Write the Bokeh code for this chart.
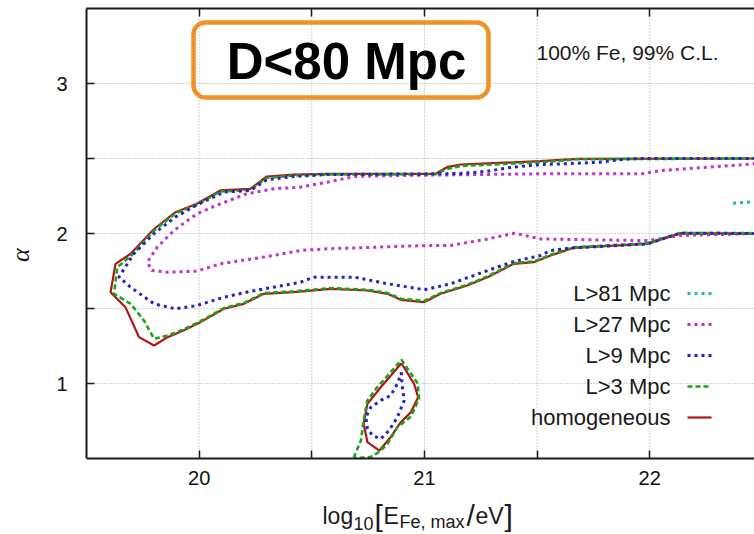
from bokeh.plotting import figure
from bokeh.models import Range1d, FixedTicker, LinearAxis, Label, BoxAnnotation
from bokeh.embed import file_html
from bokeh.resources import INLINE

# ---- 99% C.L. contours in the (log10 E_max, alpha) plane ----
# homogeneous source distribution: main band (upper edge, around the tip, lower edge)
hom_x = [22.47, 21.68, 21.515, 21.16, 21.10, 21.05, 20.567, 20.42, 20.30, 20.227, 20.094,
         19.99, 19.895, 19.80, 19.696, 19.629, 19.607,
         19.673, 19.733, 19.80, 19.86, 19.93, 20.006, 20.11, 20.198, 20.287, 20.42, 20.585,
         20.747, 20.836, 20.895, 20.998, 21.072, 21.19, 21.28, 21.397, 21.486, 21.56, 21.66,
         21.99, 22.135, 22.47]
hom_y = [2.50, 2.498, 2.482, 2.46, 2.442, 2.398, 2.398, 2.393, 2.38, 2.298, 2.287,
         2.198, 2.142, 2.03, 1.865, 1.798, 1.609,
         1.509, 1.309, 1.253, 1.309, 1.353, 1.409, 1.498, 1.531, 1.598, 1.609, 1.631,
         1.62, 1.598, 1.558, 1.542, 1.598, 1.653, 1.709, 1.798, 1.809, 1.853, 1.904,
         1.931, 2.002, 2.0]
# homogeneous: low-alpha island
hom_isl_x = [20.898, 20.954, 20.972, 20.94, 20.895, 20.85, 20.80, 20.747, 20.73, 20.747, 20.806, 20.898]
hom_isl_y = [1.135, 0.998, 0.909, 0.809, 0.742, 0.642, 0.553, 0.609, 0.731, 0.864, 0.975, 1.135]

# L > 3 Mpc
l3_x = [22.47, 21.68, 21.515, 21.16, 21.10, 21.05, 20.567, 20.42, 20.30, 20.227, 20.094,
        19.99, 19.895, 19.80, 19.70, 19.637, 19.622,
        19.696, 19.755, 19.80, 19.86, 19.93, 20.006, 20.11, 20.198, 20.287, 20.42, 20.585,
        20.747, 20.836, 20.895, 20.998, 21.072, 21.19, 21.28, 21.397, 21.486, 21.56, 21.66,
        21.99, 22.135, 22.47]
l3_y = [2.50, 2.495, 2.475, 2.45, 2.43, 2.395, 2.393, 2.387, 2.37, 2.29, 2.28,
        2.19, 2.135, 2.02, 1.855, 1.776, 1.598,
        1.531, 1.42, 1.298, 1.32, 1.36, 1.415, 1.503, 1.536, 1.603, 1.614, 1.636,
        1.625, 1.603, 1.565, 1.55, 1.603, 1.658, 1.714, 1.803, 1.814, 1.858, 1.908,
        1.935, 2.004, 2.002]
l3_isl_x = [20.686, 20.718, 20.73, 20.747, 20.79, 20.85, 20.898, 20.97, 20.976, 20.94, 20.88,
            20.836, 20.80, 20.76, 20.70, 20.686]
l3_isl_y = [0.505, 0.62, 0.753, 0.887, 0.975, 1.075, 1.158, 1.0, 0.898, 0.78, 0.709,
            0.598, 0.545, 0.51, 0.503, 0.505]

# L > 9 Mpc
l9_x = [22.47, 21.95, 21.855, 21.78, 21.62, 21.515, 21.37, 21.28, 21.16, 21.05, 20.567, 20.42,
        20.30, 20.227, 20.11, 19.99, 19.895, 19.80, 19.71, 19.644,
        19.696, 19.80, 19.895, 19.99, 20.11, 20.21, 20.33, 20.45, 20.51, 20.69, 20.836, 21.0,
        21.117, 21.28, 21.40, 21.515, 21.56, 21.66, 21.99, 22.135, 22.47]
l9_y = [2.50, 2.50, 2.49, 2.475, 2.465, 2.46, 2.438, 2.415, 2.40, 2.398, 2.393, 2.38,
        2.358, 2.287, 2.276, 2.19, 2.11, 2.0, 1.865, 1.709,
        1.642, 1.531, 1.498, 1.52, 1.575, 1.609, 1.642, 1.675, 1.709, 1.709, 1.665, 1.625,
        1.665, 1.753, 1.815, 1.853, 1.887, 1.904, 1.931, 2.002, 2.0]
l9_isl_x = [20.898, 20.90, 20.91, 20.88, 20.843, 20.806, 20.77, 20.747, 20.74, 20.762, 20.806,
            20.85, 20.88, 20.898]
l9_isl_y = [1.075, 0.998, 0.887, 0.775, 0.687, 0.631, 0.653, 0.698, 0.775, 0.842, 0.887,
            0.92, 0.998, 1.075]

# L > 27 Mpc
l27_x = [22.47, 22.05, 21.97, 21.515, 20.895, 20.69, 20.567, 20.45, 20.33, 20.21, 20.094,
         19.99, 19.888, 19.814, 19.77,
         19.79, 19.86, 19.99, 20.094, 20.21, 20.33, 20.45, 20.567, 20.69, 21.01, 21.117,
         21.28, 21.40, 21.515, 21.72, 21.99, 22.135, 22.47]
l27_y = [2.465, 2.42, 2.398, 2.398, 2.387, 2.38, 2.342, 2.309, 2.298, 2.264, 2.198,
         2.131, 2.02, 1.909, 1.809,
         1.753, 1.742, 1.749, 1.798, 1.825, 1.853, 1.887, 1.898, 1.904, 1.92, 1.92,
         1.964, 2.002, 1.964, 1.958, 1.953, 1.987, 2.0]

# L > 81 Mpc
l81_x = [22.37, 22.47]
l81_y = [2.202, 2.213]

# legend entries, top to bottom
legend_labels = ["L>81 Mpc", "L>27 Mpc", "L>9 Mpc", "L>3 Mpc", "homogeneous"]

# axis ticks
x_ticks = [20, 20.5, 21, 21.5, 22]
y_ticks = [1, 1.5, 2, 2.5, 3]

# ---- line styles ----
RED, GREEN, BLUE, MAGENTA, CYAN = "#b01515", "#1ba31b", "#2424bd", "#c233c2", "#22b5b5"
STY = {
    "hom": dict(line_color=RED, line_width=2.2),
    "l3": dict(line_color=GREEN, line_width=2.6, line_dash="5 3"),
    "l9": dict(line_color=BLUE, line_width=3, line_dash="3 4"),
    "l27": dict(line_color=MAGENTA, line_width=3, line_dash="3 4"),
    "l81": dict(line_color=CYAN, line_width=3, line_dash="3 4"),
}
legend_styles = ["l81", "l27", "l9", "l3", "hom"]

# ---- canvas geometry ----
# The frame runs from the left axis to the right edge and down to the bottom of the
# canvas, so the composed x-axis title can live inside it; the bottom axis sits at alpha=0.5.
W, H = 754, 534
LEFT, TOP = 86, 8
X_START, X_END = 19.5, 22.465
Y_AXIS_LO, Y_END = 0.5, 3.5
PX_PER_Y = 150.0
PX_PER_X = (W - LEFT) / (X_END - X_START)
Y_START = Y_END - (H - TOP) / PX_PER_Y


def px2x(px):
    return X_START + (px - LEFT) / PX_PER_X


def py2y(py):
    return Y_END - (py - TOP) / PX_PER_Y


p = figure(width=W, height=H, x_range=Range1d(X_START, X_END),
           y_range=Range1d(Y_START, Y_END), output_backend="svg", toolbar_location=None,
           min_border_left=LEFT, min_border_right=0, min_border_top=TOP,
           min_border_bottom=0, background_fill_color="white", border_fill_color="white")
p.outline_line_color = None
p.xgrid.visible = False
p.ygrid.visible = False

# axes: inward ticks, labels on integers only
AX = "#1a1a1a"
FONT = "Liberation Sans"
p.xaxis.ticker = FixedTicker(ticks=x_ticks)
p.yaxis.ticker = FixedTicker(ticks=y_ticks)
p.xaxis.major_label_overrides = {20.5: "", 21.5: ""}
p.yaxis.major_label_overrides = {1.5: "", 2.5: ""}
p.xaxis.fixed_location = Y_AXIS_LO
p.yaxis.bounds = (Y_AXIS_LO, Y_END)
for ax in (p.xaxis, p.yaxis):
    ax.axis_line_color = AX
    ax.axis_line_width = 2
    ax.major_tick_in = 8
    ax.major_tick_out = 0
    ax.major_tick_line_color = AX
    ax.major_tick_line_width = 1.5
    ax.minor_tick_line_color = None
    ax.major_label_text_font = FONT
    ax.major_label_text_font_size = "20px"
    ax.major_label_text_color = "#111111"
p.xaxis.major_label_standoff = 12
p.yaxis.major_label_standoff = 19

# rotated alpha, nudged up the axis with non-breaking spaces before it
p.yaxis.axis_label = "\u00a0" * 5 + "α"
p.yaxis.axis_label_text_font = "Liberation Serif"
p.yaxis.axis_label_text_font_style = "italic"
p.yaxis.axis_label_text_font_size = "26px"
p.yaxis.axis_label_text_color = "#1a1a1a"
p.yaxis.axis_label_standoff = 18

top_axis = LinearAxis(ticker=FixedTicker(ticks=x_ticks), axis_line_color=AX, axis_line_width=2,
                      major_tick_in=8, major_tick_out=0, major_tick_line_color=AX,
                      major_tick_line_width=1.5, minor_tick_line_color=None,
                      major_label_text_font_size="0px", major_label_standoff=0,
                      major_label_overrides={t: "" for t in x_ticks})
p.add_layout(top_axis, "above")

# dotted grid, limited to the axes box
GRID = dict(line_color="#a8a8a8", line_dash="1 2", line_width=1, level="underlay")
p.segment(x0=x_ticks, y0=[Y_AXIS_LO] * len(x_ticks), x1=x_ticks, y1=[Y_END] * len(x_ticks), **GRID)
p.segment(x0=[X_START] * len(y_ticks), y0=y_ticks, x1=[X_END] * len(y_ticks), y1=y_ticks, **GRID)

# ---- contours ----
p.line(l27_x, l27_y, **STY["l27"])
p.line(l81_x, l81_y, **STY["l81"])
p.line(hom_x, hom_y, **STY["hom"])
p.line(hom_isl_x, hom_isl_y, **STY["hom"])
p.line(l3_x, l3_y, **STY["l3"])
p.line(l3_isl_x, l3_isl_y, **STY["l3"])
p.line(l9_x, l9_y, **STY["l9"])
p.line(l9_isl_x, l9_isl_y, **STY["l9"])

# ---- legend: text on the left, sample line on the right ----
row_py = [293, 324, 355, 386, 417]
for lab, key, py in zip(legend_labels, legend_styles, row_py):
    p.add_layout(Label(x=px2x(670), y=py2y(py), text=lab, text_align="right",
                       text_baseline="middle", text_font=FONT, text_font_size="22px",
                       text_color="#1a1a1a"))
    p.segment(x0=[px2x(687)], y0=[py2y(py)], x1=[px2x(711)], y1=[py2y(py)], **STY[key])

# ---- annotations ----
p.add_layout(Label(x=px2x(627), y=py2y(52), text="100% Fe, 99% C.L.", text_align="center",
                   text_baseline="middle", text_font=FONT, text_font_size="21px",
                   text_color="#1a1a1a"))

p.add_layout(BoxAnnotation(left=px2x(193), right=px2x(488), top=py2y(22), bottom=py2y(97),
                           fill_color=None, fill_alpha=0, line_color="#f0922a", line_alpha=1,
                           line_width=4.5, border_radius=12))
p.add_layout(Label(x=px2x(346), y=py2y(61), text="D<80 Mpc", text_align="center",
                   text_baseline="middle", text_font=FONT, text_font_size="51px",
                   text_font_style="bold", text_color="black"))

# x-axis title log10[E_{Fe, max}/eV], assembled from pieces (vertical centres in px)
xlabel_parts = [
    ("log", 322, 515, "23px"),
    ("10", 353, 523, "18px"),
    ("[", 374, 515, "30px"),
    ("E", 383, 515, "23px"),
    ("Fe, max", 399, 521, "18px"),
    ("/", 466, 515, "30px"),
    ("eV", 475, 515, "23px"),
    ("]", 504, 515, "30px"),
]
for txt, px, py, size in xlabel_parts:
    p.add_layout(Label(x=px2x(px), y=py2y(py), text=txt, text_align="left",
                       text_baseline="middle", text_font=FONT, text_font_size=size,
                       text_color="#1a1a1a"))

open("out.html", "w").write(file_html(p, INLINE))
